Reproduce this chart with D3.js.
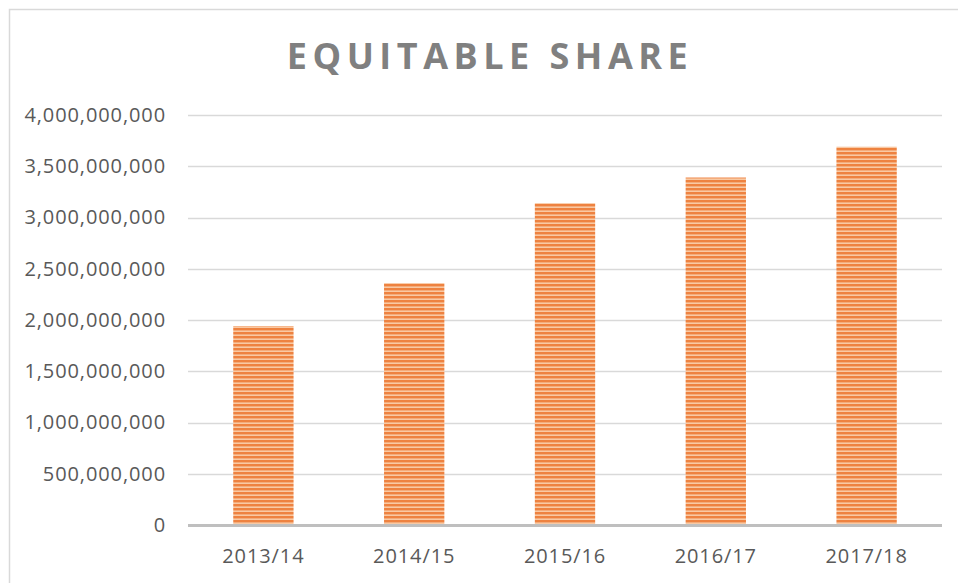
<!DOCTYPE html>
<html>
<head>
<meta charset="utf-8">
<script src="https://cdn.jsdelivr.net/npm/d3@7"></script>
<style>
  body { margin: 0; background: #fff; }
  svg { display: block; }
</style>
</head>
<body>
<div id="chart"></div>
<script>
var w = 958,
    h = 583;

// data
var years = ['2013/14', '2014/15', '2015/16', '2016/17', '2017/18'];
var shares = [1940000000, 2360000000, 3140000000, 3390000000, 3690000000];
var yTicks = [0, 500000000, 1000000000, 1500000000, 2000000000, 2500000000, 3000000000, 3500000000, 4000000000];

var plotLeft = 188, plotRight = 942, plotTop = 115, plotBottom = 525;

var svg = d3.select("#chart")
    .append("svg")
    .attr("width", w)
    .attr("height", h);

// striped fill for bars
var pat = svg.append("defs").append("pattern")
    .attr("id", "stripes")
    .attr("patternUnits", "userSpaceOnUse")
    .attr("width", 8)
    .attr("height", 4);
pat.append("rect").attr("width", 8).attr("height", 4).attr("fill", "#f9c9a3");
pat.append("rect").attr("width", 8).attr("height", 2.4).attr("fill", "#ee8240");

// chart frame
svg.append("rect")
    .attr("x", 9.5)
    .attr("y", 9.5)
    .attr("width", w + 10)
    .attr("height", h + 10)
    .attr("fill", "none")
    .attr("stroke", "#d9d9d9")
    .attr("stroke-width", 1.5);

svg.append("text")
    .attr("x", 490)
    .attr("y", 69)
    .attr("text-anchor", "middle")
    .style("font-family", "'Open Sans', sans-serif")
    .style("font-weight", "bold")
    .style("font-size", "36px")
    .style("letter-spacing", "5.5px")
    .style("fill", "#808080")
    .text("EQUITABLE SHARE");

var x = d3.scaleBand().domain(years).range([plotLeft, plotRight]).paddingInner(0.6).paddingOuter(0.3);
var y = d3.scaleLinear().domain([0, 4000000000]).range([plotBottom, plotTop]);

// gridlines
svg.append("g")
    .selectAll("line")
    .data(yTicks.slice(1))
    .enter()
    .append("line")
    .attr("x1", plotLeft)
    .attr("x2", plotRight)
    .attr("y1", function (d) { return Math.round(y(d)) + 0.5; })
    .attr("y2", function (d) { return Math.round(y(d)) + 0.5; })
    .attr("stroke", "#d9d9d9")
    .attr("stroke-width", 1.3);

var yAxis = d3.axisLeft(y)
    .tickValues(yTicks)
    .tickSize(0)
    .tickPadding(0)
    .tickFormat(d3.format(","));

var gy = svg.append("g")
    .attr("transform", "translate(166,0)")
    .call(yAxis);
gy.select(".domain").remove();
gy.selectAll(".tick text")
    .style("font-family", "'Open Sans', sans-serif")
    .style("font-size", "20px")
    .style("letter-spacing", "0.9px")
    .style("fill", "#595959");

svg.selectAll(".bar")
    .data(shares)
    .enter()
    .append("rect")
    .attr("class", "bar")
    .attr("x", function (d, i) { return x(years[i]); })
    .attr("y", function (d) { return y(d); })
    .attr("width", x.bandwidth())
    .attr("height", function (d) { return plotBottom - y(d); })
    .style("fill", "url(#stripes)");

// category axis
var xAxis = d3.axisBottom(x).tickSize(0).tickPadding(0);
var gx = svg.append("g")
    .attr("transform", "translate(0," + (plotBottom + 38) + ")")
    .call(xAxis);
gx.select(".domain").remove();
gx.selectAll(".tick text")
    .attr("dy", 0)
    .style("font-family", "'Open Sans', sans-serif")
    .style("font-size", "20px")
    .style("letter-spacing", "0.9px")
    .style("fill", "#595959");

svg.append("line")
    .attr("x1", plotLeft)
    .attr("x2", plotRight)
    .attr("y1", plotBottom + 0.5)
    .attr("y2", plotBottom + 0.5)
    .attr("stroke", "#bfbfbf")
    .attr("stroke-width", 3);
</script>
</body>
</html>
